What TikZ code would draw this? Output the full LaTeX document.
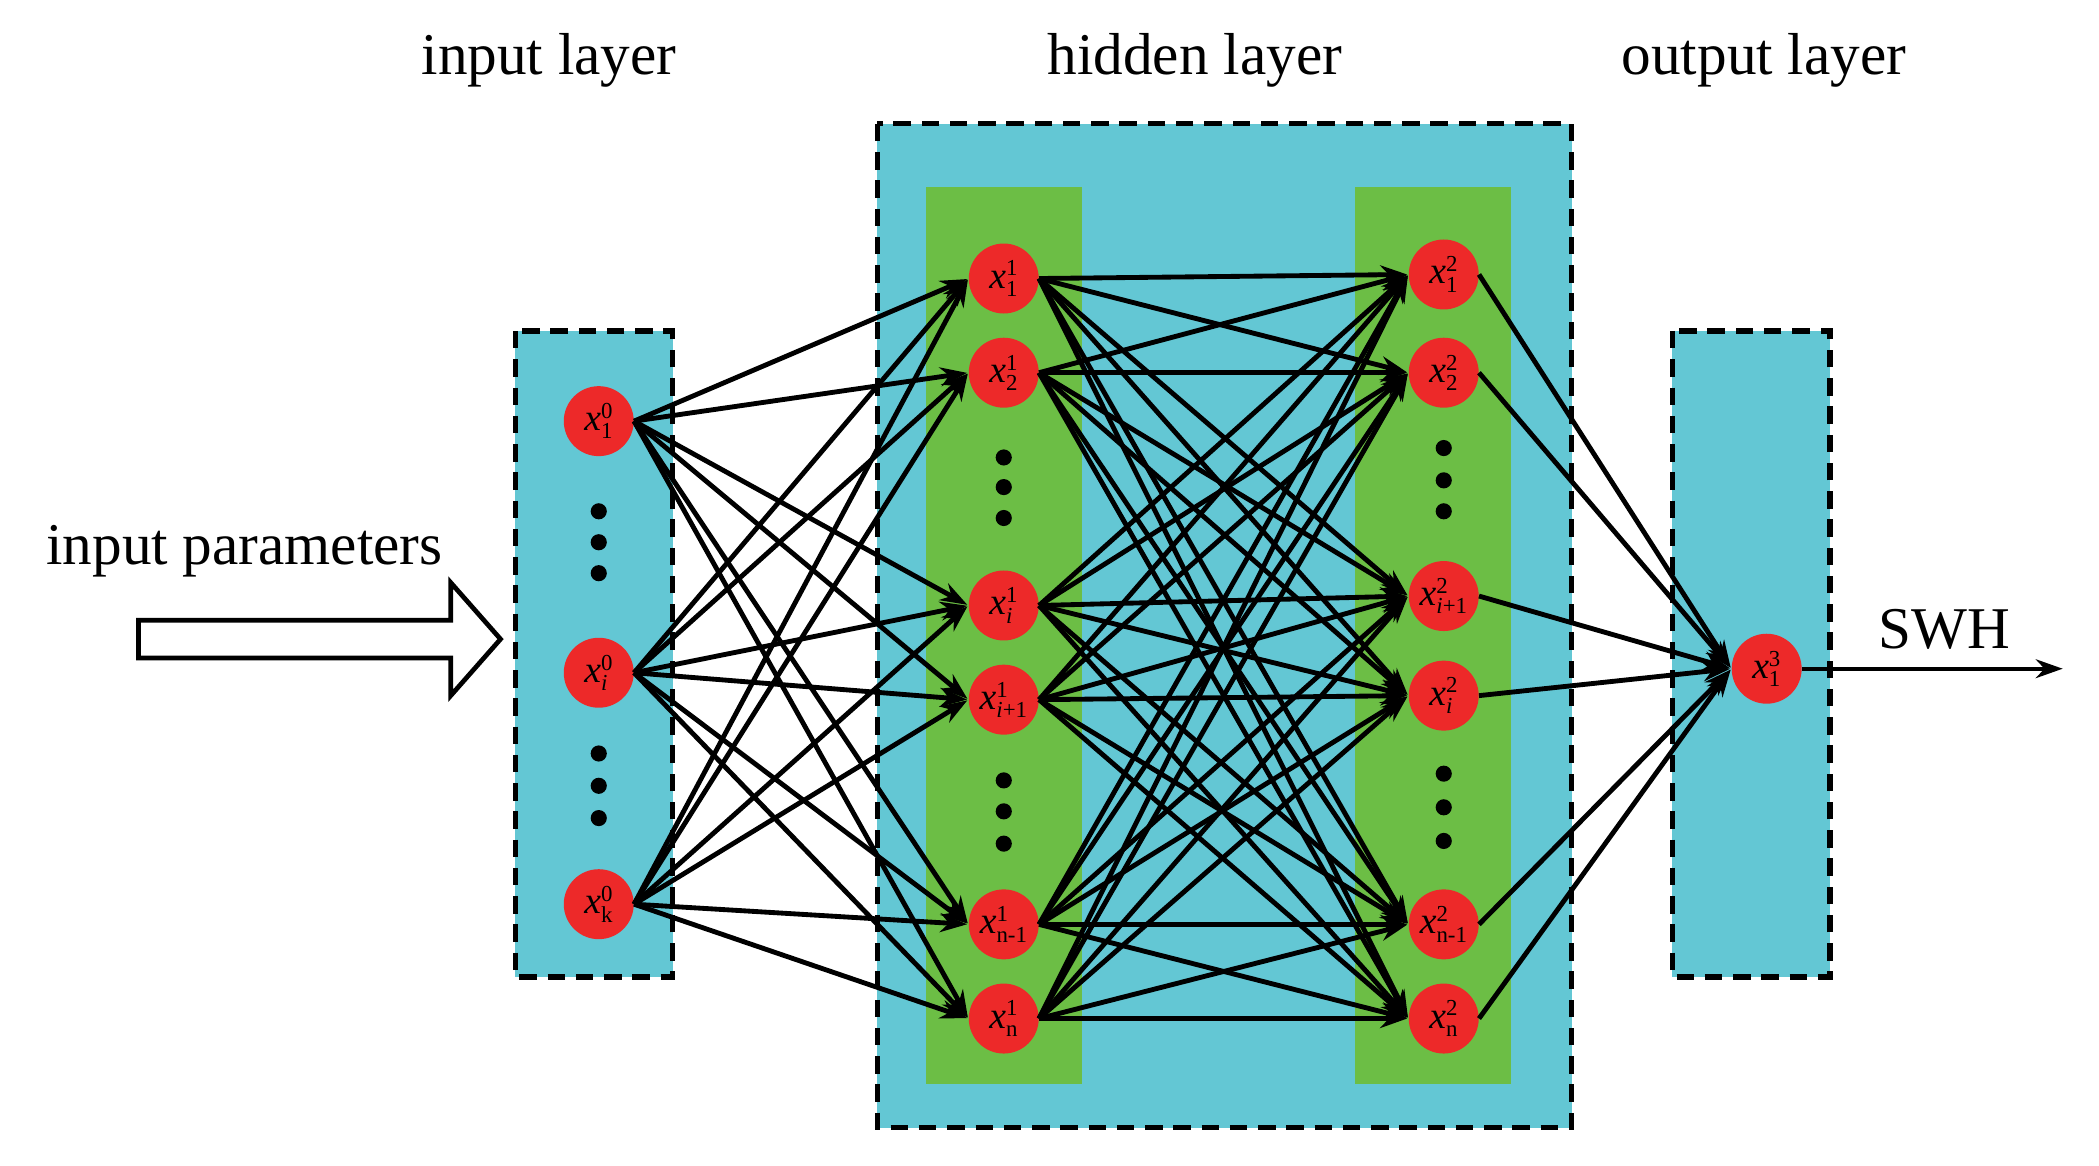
\documentclass[tikz,border=0pt]{standalone}
\usepackage{fontspec}
\setmainfont{Liberation Serif}
\usetikzlibrary{arrows.meta}
\begin{document}
\begin{tikzpicture}[x=1pt,y=-1pt,
  box/.style={draw=black, line width=4pt, dash pattern=on 13pt off 8pt},
  neu/.style={circle, draw=none, minimum size=52pt, inner sep=0pt, font=\fontsize{28}{28}\selectfont},
  dot/.style={circle, fill=black, minimum size=12pt, inner sep=0pt},
  con/.style={line width=3.6pt, -{Stealth[length=20pt,width=14pt]}, shorten >=1pt},
  ttl/.style={font=\fontsize{44}{46}\selectfont}]
\definecolor{cy}{RGB}{99,199,212}
\definecolor{gr}{RGB}{108,190,69}
\definecolor{rd}{RGB}{237,41,41}
\useasboundingbox (0,0) rectangle (1560,866);
\newcommand{\lab}[3]{\textit{x}$^{\mbox{\fontsize{17}{17}\selectfont #2}}_{\mbox{\fontsize{17}{17}\selectfont #3}}$}
% boxes
\draw[box,fill=cy] (383,246) rectangle (500,726);
\draw[box,fill=cy] (652,92) rectangle (1168,838);
\draw[box,fill=cy] (1243,246) rectangle (1360,726);
\fill[gr] (688,139) rectangle (804,806);
\fill[gr] (1007,139) rectangle (1123,806);
% titles
\node[ttl] (t1) at (408,45) {input layer};
\node[ttl] (t2) at (888,45) {hidden layer};
\node[ttl] (t3) at (1311,45) {output layer};
\node[ttl, anchor=west] (ip) at (31,410) {input parameters};
% input hollow arrow
\draw[line width=3.5pt, fill=white] (103,461) -- (335,461) -- (335,433) -- (372,475) -- (335,517) -- (335,489) -- (103,489) -- cycle;
% nodes
\node[neu,fill=rd] (a1) at (445,313) {\lab{x}{0}{1}};
\node[neu,fill=rd] (a2) at (445,500) {\lab{x}{0}{\textit{i}}};
\node[neu,fill=rd] (a3) at (445,672) {\lab{x}{0}{k}};
\node[neu,fill=rd] (b1) at (746,207) {\lab{x}{1}{1}};
\node[neu,fill=rd] (b2) at (746,277) {\lab{x}{1}{2}};
\node[neu,fill=rd] (b3) at (746,450) {\lab{x}{1}{\textit{i}}};
\node[neu,fill=rd] (b4) at (746,520) {\lab{x}{1}{\textit{i}+1}};
\node[neu,fill=rd] (b5) at (746,687) {\lab{x}{1}{n-1}};
\node[neu,fill=rd] (b6) at (746,757) {\lab{x}{1}{n}};
\node[neu,fill=rd] (c1) at (1073,204) {\lab{x}{2}{1}};
\node[neu,fill=rd] (c2) at (1073,277) {\lab{x}{2}{2}};
\node[neu,fill=rd] (c3) at (1073,443) {\lab{x}{2}{\textit{i}+1}};
\node[neu,fill=rd] (c4) at (1073,517) {\lab{x}{2}{\textit{i}}};
\node[neu,fill=rd] (c5) at (1073,687) {\lab{x}{2}{n-1}};
\node[neu,fill=rd] (c6) at (1073,757) {\lab{x}{2}{n}};
\node[neu,fill=rd] (d1) at (1313,497) {\lab{x}{3}{1}};
% dots
\foreach \y [count=\k] in {380,403,426,560,584,608} \node[dot] (da\k) at (445,\y) {};
\foreach \y [count=\k] in {340,362,385,580,603,627} \node[dot] (db\k) at (746,\y) {};
\foreach \y [count=\k] in {333,357,380,575,600,625} \node[dot] (dc\k) at (1073,\y) {};
% connections
\foreach \s in {a1,a2,a3} \foreach \t in {b1,b2,b3,b4,b5,b6}
  \draw[con] (\s.east) -- (\t.west);
\foreach \s in {b1,b2,b3,b4,b5,b6} \foreach \t in {c1,c2,c3,c4,c5,c6}
  \draw[con] (\s.east) -- (\t.west);
\foreach \s in {c1,c2,c3,c4,c5,c6}
  \draw[con] (\s.east) -- (d1.west);
\coordinate (out) at (1533,497);
\draw[line width=3pt, -{Stealth[length=20pt,width=14pt]}] (d1.east) -- (out);
\node[ttl] (swh) at (1445,468) {SWH};
\end{tikzpicture}
\end{document}
